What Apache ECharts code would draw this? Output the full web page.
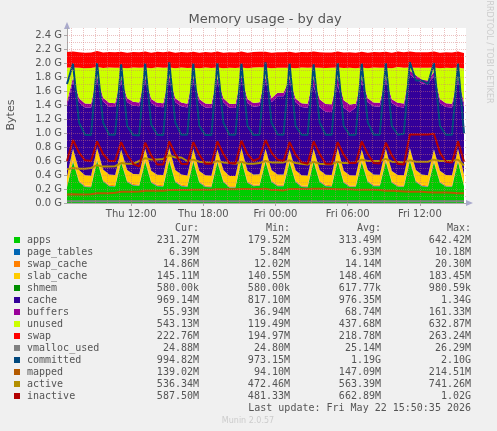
<!DOCTYPE html>
<html><head><meta charset="utf-8">
<script src="https://cdn.jsdelivr.net/npm/echarts@6/dist/echarts.min.js"></script>
<style>html,body{margin:0;padding:0;background:#F0F0F0}#c{width:497px;height:431px}</style>
</head><body><div id="c"></div>
<script>
// time: hours since Thu 00:00, 30-minute samples starting Thu 06:40
const startHour = 6 + 40/60, stepHour = 0.5;
const apps = [220,590,300,230, 225,600,310,240, 235,580,300,250, 245,590,290,240, 235,600,300,240, 230,590,290,230, 225,580,300,220, 220,600,290,240, 245,590,300,240, 240,580,300,230, 225,590,300,240, 235,600,290,230, 230,580,300,240, 240,590,290,235, 230,600,300,240, 230,580,290,235, 230,590,240];
const pageTables = [6,9,6,6, 6,9,6,6, 6,9,6,6, 6,9,6,6, 6,9,6,6, 6,9,6,6, 6,9,6,6, 6,9,6,6, 6,9,6,6, 6,9,6,6, 6,9,6,6, 6,9,6,6, 6,9,6,6, 6,9,6,6, 6,9,6,6, 6,9,6,6, 6,9,6];
const swapCache = [14,15,14,14, 14,15,14,14, 14,15,14,14, 14,15,14,14, 14,15,14,14, 14,15,14,14, 14,15,14,14, 14,15,14,14, 14,15,14,14, 14,15,14,14, 14,15,14,14, 14,15,14,14, 14,15,14,14, 14,15,14,14, 14,15,14,14, 14,15,14,14, 14,15,14];
const slabCache = [145,160,150,145, 143,162,148,146, 144,158,150,145, 146,160,149,144, 145,161,150,146, 143,159,148,145, 144,160,150,146, 145,162,149,145, 144,160,150,146, 145,158,148,145, 146,160,150,144, 145,161,149,146, 144,160,150,145, 143,159,148,146, 145,160,150,145, 146,162,149,144, 145,160,145];
const shmem = [0.6,0.6,0.6,0.6, 0.6,0.6,0.6,0.6, 0.6,0.6,0.6,0.6, 0.6,0.6,0.6,0.6, 0.6,0.6,0.6,0.6, 0.6,0.6,0.6,0.6, 0.6,0.6,0.6,0.6, 0.6,0.6,0.6,0.6, 0.6,0.6,0.6,0.6, 0.6,0.6,0.6,0.6, 0.6,0.6,0.6,0.6, 0.6,0.6,0.6,0.6, 0.6,0.6,0.6,0.6, 0.6,0.6,0.6,0.6, 0.6,0.6,0.6,0.6, 0.6,0.6,0.6,0.6, 0.6,0.6,0.6];
const cache = [1000,965,970,970, 975,965,970,968, 972,965,970,975, 970,965,970,972, 968,965,970,975, 970,965,972,970, 968,965,970,975, 972,965,970,968, 975,965,970,1120, 1120,965,970,975, 970,900,900,900, 900,900,900,900, 970,965,970,975, 972,965,970,975, 970,1050,1300,1300, 1300,1050,970,972, 968,965,970];
const buffers = [60,55,55,55, 55,55,55,56, 55,55,55,55, 55,55,55,56, 55,55,55,55, 55,55,55,56, 55,55,55,55, 55,55,55,56, 55,55,55,50, 50,50,55,55, 55,110,110,110, 110,110,110,110, 55,55,55,55, 55,55,55,55, 55,55,55,55, 55,55,55,55, 55,55,55];
const unused = [490,140,435,505, 510,135,425,505, 505,150,430,490, 495,140,440,505, 510,130,430,500, 510,140,440,515, 515,150,430,515, 515,130,440,505, 500,140,430,354, 355,155,430,510, 515,150,450,515, 520,140,460,525, 505,150,430,500, 500,140,440,510, 510,45,105,170, 180,65,440,505, 510,140,490];
const swap = [220,228,222,222, 221,229,222,222, 222,227,222,221, 222,228,222,222, 221,229,222,222, 222,228,222,221, 222,228,222,222, 221,229,222,222, 222,227,222,222, 222,228,222,221, 222,229,222,222, 221,228,222,222, 222,227,222,222, 222,228,222,221, 222,229,222,222, 222,228,222,222, 222,228,223];
const vmalloc = [25,25,25,25, 25,25,25,25, 25,25,25,25, 25,25,25,25, 25,25,25,25, 25,25,25,25, 25,25,25,25, 25,25,25,25, 25,25,25,25, 25,25,25,25, 25,25,25,25, 25,25,25,25, 25,25,25,25, 25,25,25,25, 25,25,25,25, 25,25,25,25, 25,25,25];
const committed = [1700,1990,1150,975, 970,2000,1150,975, 975,1980,1100,970, 965,1990,1120,975, 970,2010,1150,975, 975,1990,1100,970, 970,2000,1150,975, 975,1990,1100,970, 975,2010,1150,980, 975,1990,1100,975, 970,1980,1150,975, 975,2000,1100,970, 975,1990,1150,975, 975,2000,1100,975, 990,2010,1750,1750, 1700,2000,1100,975, 975,1990,995];
const mapped = [120,125,122,122, 125,140,140,140, 145,160,160,160, 165,175,175,175, 175,185,185,185, 185,190,190,190, 190,195,195,195, 195,200,200,200, 200,205,185,185, 180,200,200,200, 200,205,205,205, 200,195,195,195, 190,190,190,190, 185,175,175,170, 165,160,160,160, 155,150,150,150, 145,140,139];
const active = [480,500,490,490, 500,540,520,520, 525,570,560,560, 600,640,620,620, 630,680,650,650, 600,620,590,580, 570,600,580,570, 560,590,560,560, 570,600,580,580, 580,610,570,560, 550,590,560,555, 555,590,570,570, 580,620,600,600, 600,630,590,585, 580,610,590,590, 590,620,600,600, 600,620,536];
const inactive = [600,900,720,610, 600,880,700,600, 600,870,690,560, 520,860,680,550, 550,880,700,560, 555,870,690,560, 560,880,700,570, 565,890,700,600, 640,900,720,620, 600,870,690,580, 560,880,700,560, 560,870,690,570, 570,880,700,570, 565,860,680,560, 550,980,980,980, 980,990,720,590, 580,880,588];

const names = ['apps','page_tables','swap_cache','slab_cache','shmem','cache','buffers','unused','swap','vmalloc_used','committed','mapped','active','inactive'];
const colors = ['#00CC00','#0066B3','#FF8000','#FFCC00','#008F00','#330099','#990099','#CCFF00','#FF0000','#808080','#00487D','#B35A00','#B38F00','#B30000'];
const curVals = ['231.27M','6.39M','14.86M','145.11M','580.00k','969.14M','55.93M','543.13M','222.76M','24.88M','994.82M','139.02M','536.34M','587.50M'];
const minVals = ['179.52M','5.84M','12.02M','140.55M','580.00k','817.10M','36.94M','119.49M','194.97M','24.80M','973.15M','94.10M','472.46M','481.33M'];
const avgVals = ['313.49M','6.93M','14.14M','148.46M','617.77k','976.35M','68.74M','437.68M','218.78M','25.14M','1.19G','147.09M','563.39M','662.89M'];
const maxVals = ['642.42M','10.18M','20.30M','183.45M','980.59k','1.34G','161.33M','632.87M','263.24M','26.29M','2.10G','214.51M','741.26M','1.02G'];
const xTickHours = [12,18,24,30,36];
const xTickLabels = ['Thu 12:00','Thu 18:00','Fri 00:00','Fri 06:00','Fri 12:00'];
const gridHours = [7,8,9,10,11,12,13,14,15,16,17,18,19,20,21,22,23,24,25,26,27,28,29,30,31,32,33,34,35,36,37,38,39];
const gridMB = [100,200,300,400,500,600,700,800,900,1000,1100,1200,1300,1400,1500,1600,1700,1800,1900,2000,2100,2200,2300,2400];

const T0 = Date.UTC(2026,4,21,0,0,0), H = 3600000;
const ms = h => T0 + Math.round(h*H);
const endHour = 39 + 50/60;
const stacked = [apps,pageTables,swapCache,slabCache,shmem,cache,buffers,unused,swap];
const lines = [vmalloc,committed,mapped,active,inactive];
const xs = apps.map((_, i) => ms(startHour + i*stepHour));
const pair = arr => arr.map((v,i)=>[xs[i], v]);

const series = [];
stacked.forEach((arr,k)=>series.push({name:names[k],type:'line',stack:'mem',data:pair(arr),symbol:'none',
  lineStyle:{width:0},areaStyle:{color:colors[k],opacity:1},itemStyle:{color:colors[k]},z:2,animation:false}));
lines.forEach((arr,k)=>series.push({name:names[9+k],type:'line',data:pair(arr),symbol:'none',
  lineStyle:{width:2,color:colors[9+k]},z:4,animation:false}));
const dot = {type:'dotted',color:'rgba(210,120,120,0.45)',width:1};
series.push({type:'line',data:[],silent:true,z:5,animation:false,markLine:{silent:true,symbol:'none',label:{show:false},animation:false,
  lineStyle:dot,data:gridHours.map(h=>({xAxis:ms(h)})).concat(gridMB.map(v=>({yAxis:v})))}});

const mono = '"DejaVu Sans Mono", monospace';
const g = [];
const rowY0 = 240, rowH = 12, colR = [199,290,381,471];
['Cur:','Min:','Avg:','Max:'].forEach((h,j)=>g.push({type:'text',x:colR[j],y:228,style:{text:h,fill:'#555',font:'10px '+mono,textAlign:'right',textVerticalAlign:'middle'}}));
names.forEach((n,i)=>{
  const y = rowY0 + i*rowH;
  g.push({type:'rect',shape:{x:14,y:y-3,width:6,height:6},style:{fill:colors[i]}});
  g.push({type:'text',x:27,y:y,style:{text:n,fill:'#555',font:'10px '+mono,textVerticalAlign:'middle'}});
  [curVals,minVals,avgVals,maxVals].forEach((arr,j)=>g.push({type:'text',x:colR[j],y:y,style:{text:arr[i],fill:'#555',font:'10px '+mono,textAlign:'right',textVerticalAlign:'middle'}}));
});
g.push({type:'text',x:471,y:408,style:{text:'Last update: Fri May 22 15:50:35 2026',fill:'#555',font:'10px '+mono,textAlign:'right',textVerticalAlign:'middle'}});
g.push({type:'text',x:248,y:421,style:{text:'Munin 2.0.57',fill:'#ccc',font:'8px "DejaVu Sans"',textAlign:'center',textVerticalAlign:'middle'}});
g.push({type:'text',x:265,y:20,style:{text:'Memory usage - by day',fill:'#555',font:'13px "DejaVu Sans"',textAlign:'center',textVerticalAlign:'middle'}});
g.push({type:'text',x:11,y:115,rotation:Math.PI/2,style:{text:'Bytes',fill:'#555',font:'11px "DejaVu Sans"',textAlign:'center',textVerticalAlign:'middle'}});
g.push({type:'text',x:489,y:52,rotation:-Math.PI/2,style:{text:'RRDTOOL / TOBI OETIKER',fill:'#ccc',font:'8px "DejaVu Sans"',textAlign:'center',textVerticalAlign:'middle'}});
g.push({type:'polygon',shape:{points:[[64,29],[70,29],[67,22]]},style:{fill:'#aac'}});
g.push({type:'polygon',shape:{points:[[466,200],[466,206],[473,203]]},style:{fill:'#aac'}});

const chart = echarts.init(document.getElementById('c'),null,{renderer:'canvas'});
chart.setOption({
  backgroundColor:'#F0F0F0', animation:false,
  grid:{left:67,right:31,top:28,bottom:228,backgroundColor:'#fff',show:true,borderWidth:0},
  xAxis:[{type:'time',min:ms(startHour),max:ms(endHour),
    axisLine:{lineStyle:{color:'#aaa'}},splitLine:{show:false},axisTick:{show:false},axisLabel:{show:false}},
   {type:'value',position:'bottom',min:startHour,max:endHour,
    axisLine:{show:false},splitLine:{show:false},
    axisTick:{customValues:xTickHours,length:3,lineStyle:{color:'#aaa'}},
    axisLabel:{customValues:xTickHours,color:'#555',fontSize:10,fontFamily:'DejaVu Sans',margin:6,
      formatter:v=>{const i=xTickHours.indexOf(Math.round(v));return i<0?'':xTickLabels[i];}}}],
  yAxis:{type:'value',min:0,max:2500,interval:200,
    axisLine:{show:true,lineStyle:{color:'#aaa'}},splitLine:{show:false},
    axisTick:{show:true,length:3,lineStyle:{color:'#aaa'}},
    axisLabel:{color:'#555',fontSize:10,fontFamily:'DejaVu Sans',margin:5,formatter:v=>(v/1000).toFixed(1)+' G'}},
  series:series, graphic:g
});
</script></body></html>
